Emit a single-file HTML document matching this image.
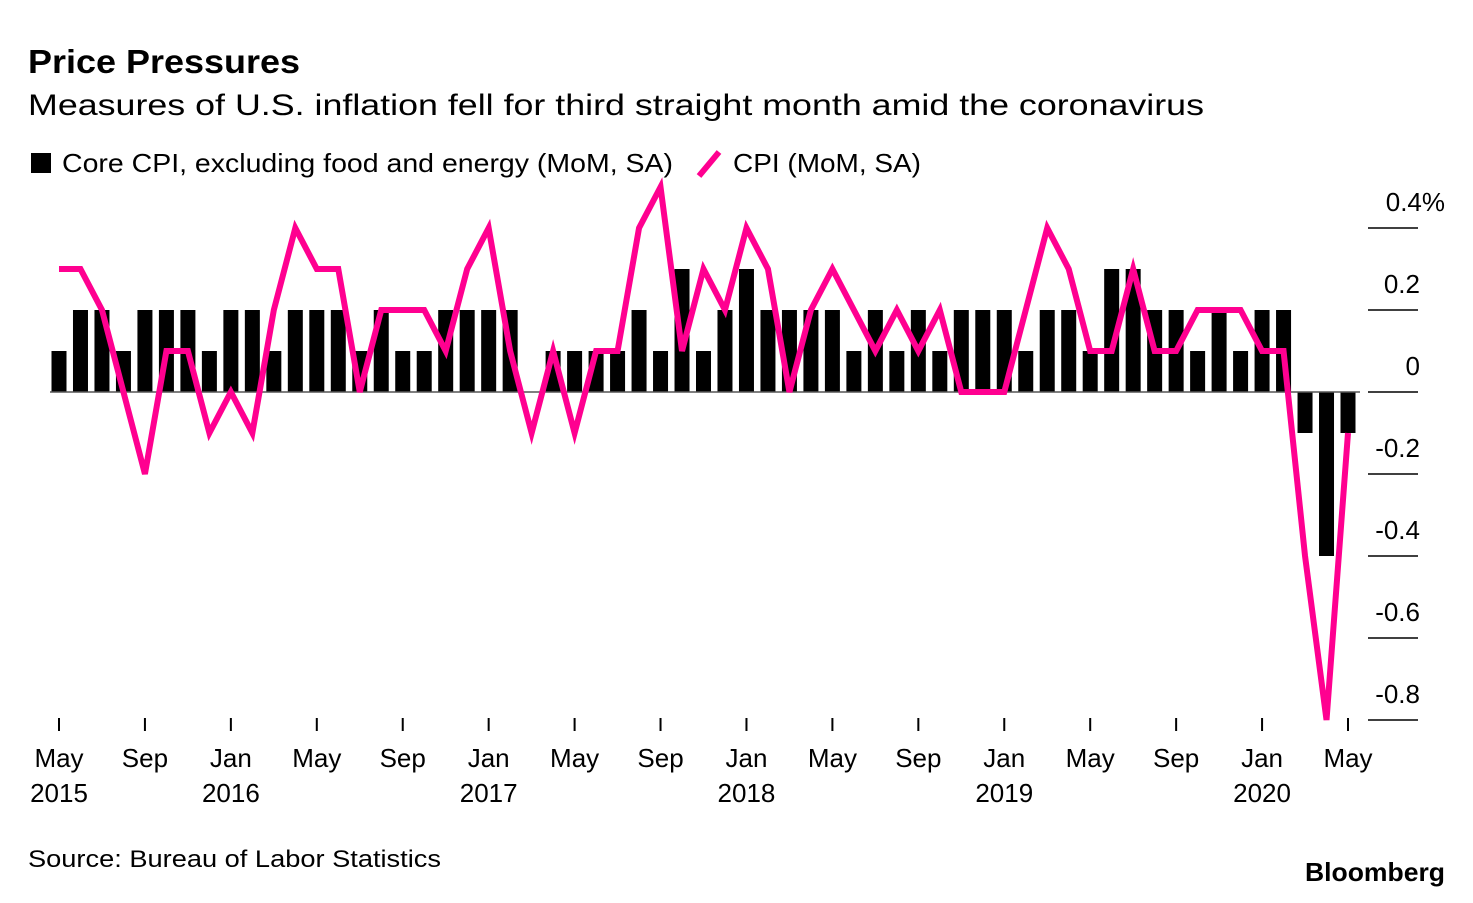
<!DOCTYPE html>
<html><head><meta charset="utf-8"><style>
body{margin:0;background:#fff;font-family:"Liberation Sans",sans-serif;}
svg text{font-family:"Liberation Sans",sans-serif;}
</style></head><body>
<svg width="1473" height="898">
<text x="28" y="73" font-size="33" font-weight="bold" textLength="272" lengthAdjust="spacingAndGlyphs">Price Pressures</text>
<text x="28" y="115" font-size="30" textLength="1176" lengthAdjust="spacingAndGlyphs">Measures of U.S. inflation fell for third straight month amid the coronavirus</text>
<rect x="31" y="153" width="20" height="20" fill="#000"/>
<text x="62" y="172" font-size="26" textLength="611" lengthAdjust="spacingAndGlyphs">Core CPI, excluding food and energy (MoM, SA)</text>
<line x1="699" y1="176" x2="719" y2="152" stroke="#ff0090" stroke-width="6"/>
<text x="733" y="172" font-size="26" textLength="188" lengthAdjust="spacingAndGlyphs">CPI (MoM, SA)</text>
<g id="plot"></g>
<text x="28" y="867" font-size="24" textLength="413" lengthAdjust="spacingAndGlyphs">Source: Bureau of Labor Statistics</text>
<text x="1445" y="881" font-size="26" font-weight="bold" text-anchor="end" textLength="140" lengthAdjust="spacingAndGlyphs">Bloomberg</text>
</svg>
<script>
const coreValues=[0.1,0.2,0.2,0.1,0.2,0.2,0.2,0.1,0.2,0.2,0.1,0.2,0.2,0.2,0.1,0.2,0.1,0.1,0.2,0.2,0.2,0.2,0.0,0.1,0.1,0.1,0.1,0.2,0.1,0.3,
0.1,0.2,0.3,0.2,0.2,0.2,0.2,0.1,0.2,0.1,0.2,0.1,0.2,0.2,0.2,0.1,0.2,0.2,0.1,0.3,0.3,0.2,0.2,0.1,0.2,0.1,0.2,0.2,-0.1,-0.4,-0.1];
const cpiValues=[0.3,0.3,0.2,0.0,-0.2,0.1,0.1,-0.1,0.0,-0.1,0.2,0.4,0.3,0.3,0.0,0.2,0.2,0.2,0.1,0.3,0.4,0.1,-0.1,0.1,-0.1,0.1,0.1,0.4,0.5,0.1,
0.3,0.2,0.4,0.3,0.0,0.2,0.3,0.2,0.1,0.2,0.1,0.2,0.0,0.0,0.0,0.2,0.4,0.3,0.1,0.1,0.3,0.1,0.1,0.2,0.2,0.2,0.1,0.1,-0.4,-0.8,-0.1];
const yTicks=[0.4,0.2,0,-0.2,-0.4,-0.6,-0.8];
const yTickLabels=["0.4%","0.2","0","-0.2","-0.4","-0.6","-0.8"];
const xTickMonths=["May","Sep","Jan","May","Sep","Jan","May","Sep","Jan","May","Sep","Jan","May","Sep","Jan","May"];
const xTickYears=["2015","","2016","","","2017","","","2018","","","2019","","","2020",""];
const NS="http://www.w3.org/2000/svg";
const g=document.getElementById('plot');
const x=i=>59+i*(1348-59)/60;
const y=v=>392-v*410;
function mk(t,a){const e=document.createElementNS(NS,t);for(const k in a)e.setAttribute(k,a[k]);g.appendChild(e);return e;}
yTicks.forEach((v,i)=>{
 const l=mk('line',{x1:1368,x2:1418,y1:y(v),y2:y(v),stroke:'#000','stroke-width':1.5});
 
 
 const t=mk('text',{x:i==0?1445:1420,y:y(v)-17,'font-size':26,'text-anchor':'end'});
 t.textContent=yTickLabels[i];
 
 
});
coreValues.forEach((v,i)=>{
 const r=mk('rect',{x:x(i)-7.5,y:Math.min(y(v),y(0)),width:15,height:Math.abs(y(v)-y(0)),fill:'#000'});
 
 
});
const z=mk('line',{x1:50,x2:1360,y1:y(0),y2:y(0),stroke:'#555','stroke-width':1.5});


const p=mk('polyline',{points:cpiValues.map((v,i)=>x(i)+','+y(v)).join(' '),fill:'none',stroke:'#ff0090','stroke-width':6,'stroke-linejoin':'miter'});


xTickMonths.forEach((m,k)=>{
 const xi=x(k*4);
 const tk=mk('line',{x1:xi,x2:xi,y1:718,y2:731,stroke:'#000','stroke-width':2});
 
 
 const t=mk('text',{x:xi,y:767,'font-size':26,'text-anchor':'middle'});
 t.textContent=m;
 
 
 if(xTickYears[k]){const t2=mk('text',{x:xi,y:802,'font-size':26,'text-anchor':'middle'});
 t2.textContent=xTickYears[k];
 
 }
});
</script>
</body></html>
